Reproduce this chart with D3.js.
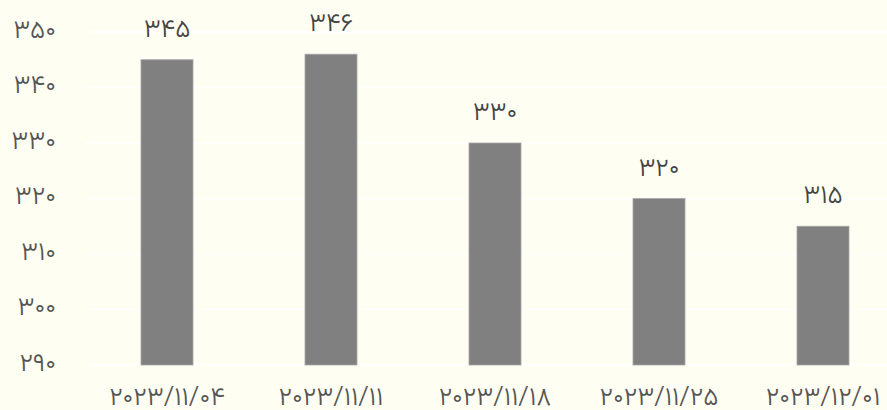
<!DOCTYPE html>
<html><head><meta charset="utf-8">
<script src="https://cdn.jsdelivr.net/npm/d3@7"></script>
<style>html,body{margin:0;padding:0;background:#fefef2;}svg{display:block;}</style>
</head><body>
<svg id="c" width="887" height="410"></svg>
<script>
const categories = ["2023/11/04","2023/11/11","2023/11/18","2023/11/25","2023/12/01"];
const values = [345, 346, 330, 320, 315];
const yTicks = [290, 300, 310, 320, 330, 340, 350];

const fa = s => String(s).replace(/[0-9]/g, d => "۰۱۲۳۴۵۶۷۸۹"[+d]);

const svg = d3.select("#c");
const W = 887, H = 410;
svg.append("rect").attr("width", W).attr("height", H).attr("fill", "#fefef2");

const x = d3.scaleBand().domain(categories).range([85, 905]).paddingInner(0.683).paddingOuter(0.3415);
const y = d3.scaleLinear().domain([290, 350]).range([365, 32]);

const font = "Vazirmatn, 'DejaVu Sans', sans-serif";
const textColor = "#555555";

// gridlines
svg.append("g").selectAll("line").data(yTicks).join("line")
  .attr("x1", 85).attr("x2", W)
  .attr("y1", d => y(d)).attr("y2", d => y(d))
  .attr("stroke", "#ffffff").attr("stroke-width", 1.5);

// y axis
const yAxis = d3.axisLeft(y).tickValues(yTicks).tickFormat(fa).tickSize(0).tickPadding(0);
const gy = svg.append("g").attr("transform", "translate(56,0)").call(yAxis);
gy.select(".domain").remove();
gy.selectAll("text").attr("font-family", font).attr("font-weight", 300).attr("font-size", 26).attr("fill", textColor).attr("dy", "0.2em");

// x axis
const xAxis = d3.axisBottom(x).tickFormat(fa).tickSize(0).tickPadding(0);
const gx = svg.append("g").attr("transform", "translate(0,387)").call(xAxis);
gx.select(".domain").remove();
gx.selectAll("text").attr("font-family", font).attr("font-weight", 300).attr("font-size", 26).attr("fill", textColor).attr("dy", "0.71em");

// bars
svg.append("g").selectAll("rect").data(values).join("rect")
  .attr("x", (d, i) => x(categories[i]))
  .attr("width", x.bandwidth())
  .attr("y", d => y(d))
  .attr("height", d => y(290) - y(d))
  .attr("fill", "#808080")
  .attr("stroke", "#a6a6a6").attr("stroke-width", 0.8);

// value labels
svg.append("g").selectAll("text").data(values).join("text")
  .attr("x", (d, i) => x(categories[i]) + x.bandwidth() / 2)
  .attr("y", d => y(d) - 23)
  .attr("text-anchor", "middle")
  .attr("font-family", font).attr("font-weight", 300).attr("font-size", 26).attr("fill", "#444444")
  .text(fa);
</script>
</body></html>
